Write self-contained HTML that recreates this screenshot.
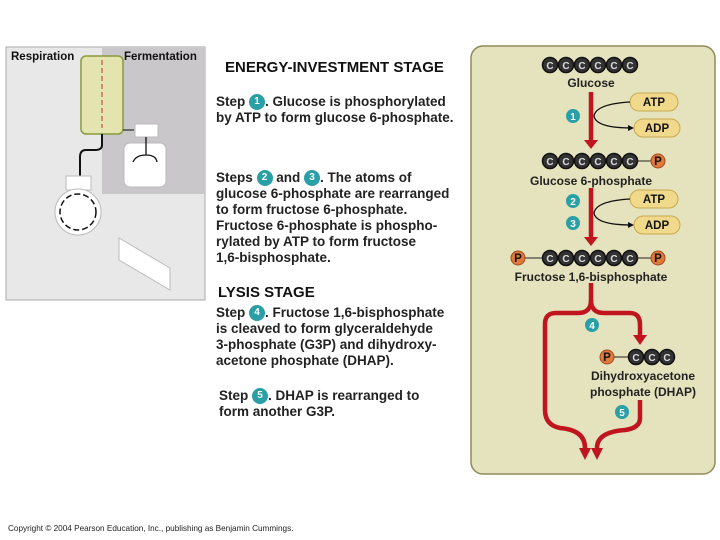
<!DOCTYPE html>
<html><head><style>
body{margin:0;background:#fff;position:relative;width:720px;height:540px;overflow:hidden;}
svg{display:block;font-family:"Liberation Sans",sans-serif;}
.txt{position:absolute;font-family:"Liberation Sans",sans-serif;font-weight:bold;font-size:13.5px;line-height:16px;color:#222;white-space:nowrap;}
.n{display:inline-block;width:16px;height:16px;border-radius:50%;background:#2a9fa6;color:#fff;font-size:10px;line-height:16px;text-align:center;vertical-align:top;}
.h{position:absolute;font-family:"Liberation Sans",sans-serif;font-weight:bold;font-size:15px;color:#111;white-space:nowrap;}
.c{fill:#333;stroke:#111;stroke-width:1.5;}
.ct{font-size:10px;font-weight:bold;fill:#ddd;text-anchor:middle;}
.lb{font-size:12px;font-weight:bold;fill:#222;text-anchor:middle;}
.st{fill:#2a9fa6;}
.sn{font-size:10px;font-weight:bold;fill:#fff;text-anchor:middle;}
.pill{fill:#f0d98a;stroke:#c8a850;stroke-width:1;}
.pt{font-size:11.5px;font-weight:bold;fill:#111;text-anchor:middle;}
.p{fill:#e0793a;stroke:#a04a20;}
.r{stroke:#c0141e;stroke-width:4.5;fill:none;}
</style></head><body>
<svg width="720" height="540" viewBox="0 0 720 540">
<rect x="6" y="47" width="199" height="253" fill="#e8e8e8" stroke="#aaa"/>
<rect x="102" y="47" width="103" height="147" fill="#c9c7c9"/>
<text x="11" y="60" font-size="11.5" font-weight="bold" fill="#111">Respiration</text>
<text x="124" y="60" font-size="11.5" font-weight="bold" fill="#111">Fermentation</text>
<rect x="81" y="56" width="42" height="78" rx="5" fill="#e3e4b0" stroke="#8a9a3a" stroke-width="1.5"/>
<line x1="102" y1="60" x2="102" y2="128" stroke="#c03020" stroke-width="1" stroke-dasharray="5,3"/>
<path d="M102 134 V145 Q102 150 95 150 H86 Q80 150 80 157 V176" stroke="#111" stroke-width="2" fill="none"/>
<line x1="123" y1="130" x2="134" y2="130" stroke="#111"/>
<rect x="135" y="124" width="23" height="13" fill="#fff" stroke="#bbb"/>
<rect x="124" y="143" width="42" height="44" rx="6" fill="#fff" stroke="#bbb"/>
<path d="M146 137 V155 M146 155 Q136 155 133 162 M146 155 Q156 155 157 162" stroke="#111" stroke-width="1.3" fill="none"/>
<rect x="66" y="176" width="25" height="14" fill="#fff" stroke="#bbb"/>
<circle cx="78" cy="212" r="23" fill="#fff" stroke="#bbb"/>
<circle cx="78" cy="212" r="18" fill="none" stroke="#111" stroke-width="1.5" stroke-dasharray="6,3"/>
<polygon points="119,238 170,268 170,290 119,260" fill="#fff" stroke="#bbb"/>
<rect x="471" y="46" width="244" height="428" rx="12" fill="#e5e3be" stroke="#8c8c5a" stroke-width="1.5"/>
<g id="c6">
<g class="c"><circle cx="550" cy="65" r="7.5"/><circle cx="566" cy="65" r="7.5"/><circle cx="582" cy="65" r="7.5"/><circle cx="598" cy="65" r="7.5"/><circle cx="614" cy="65" r="7.5"/><circle cx="630" cy="65" r="7.5"/></g>
<g class="ct"><text x="550" y="69">C</text><text x="566" y="69">C</text><text x="582" y="69">C</text><text x="598" y="69">C</text><text x="614" y="69">C</text><text x="630" y="69">C</text></g>
</g>
<text x="591" y="87" class="lb">Glucose</text>
<use href="#c6" y="96"/>
<line x1="637" y1="161" x2="651" y2="161" stroke="#222"/><circle cx="658" cy="161" r="7" class="p"/><text x="658" y="165" class="pt" font-size="10">P</text>
<text x="591" y="185" class="lb">Glucose 6-phosphate</text>
<use href="#c6" y="193"/>
<line x1="637" y1="258" x2="651" y2="258" stroke="#222"/><circle cx="658" cy="258" r="7" class="p"/><text x="658" y="262" class="pt" font-size="10">P</text>
<line x1="525" y1="258" x2="543" y2="258" stroke="#222"/><circle cx="518" cy="258" r="7" class="p"/><text x="518" y="262" class="pt" font-size="10">P</text>
<text x="591" y="281" class="lb">Fructose 1,6-bisphosphate</text>
<path class="r" d="M591 92 V140"/><polygon points="584,140 598,140 591,149" fill="#c0141e"/>
<path class="r" d="M591 188 V237"/><polygon points="584,237 598,237 591,246" fill="#c0141e"/>
<g class="pill"><rect x="630" y="93" width="48" height="18" rx="9"/><rect x="634" y="119" width="46" height="18" rx="9"/><rect x="630" y="190" width="48" height="18" rx="9"/><rect x="634" y="216" width="46" height="18" rx="9"/></g>
<g class="pt"><text x="654" y="106">ATP</text><text x="657" y="132">ADP</text><text x="654" y="203">ATP</text><text x="657" y="229">ADP</text></g>
<path d="M630 102 Q596 104 594 116 Q596 128 632 128" stroke="#111" stroke-width="1.3" fill="none"/><polygon points="628,125 634,128 628,131" fill="#111"/>
<path d="M630 199 Q596 201 594 213 Q596 225 632 225" stroke="#111" stroke-width="1.3" fill="none"/><polygon points="628,222 634,225 628,228" fill="#111"/>
<g class="st"><circle cx="573" cy="116" r="7"/><circle cx="573" cy="201" r="7"/><circle cx="573" cy="223" r="7"/><circle cx="592" cy="325" r="7"/><circle cx="622" cy="412" r="7"/></g>
<g class="sn"><text x="573" y="120">1</text><text x="573" y="205">2</text><text x="573" y="227">3</text><text x="592" y="329">4</text><text x="622" y="416">5</text></g>
<path class="r" d="M591 283 V300 Q591 313 578 313 H556 Q545 313 545 324 V410 Q545 425 560 428 Q585 430 585 448"/>
<path class="r" d="M591 300 Q591 313 604 313 H630 Q640 313 640 325 V335"/>
<polygon points="633,335 647,335 640,345" fill="#c0141e"/>
<path class="r" d="M640 400 V418 Q640 428 625 430 Q597 432 597 448"/>
<polygon points="579,448 591,448 585,460" fill="#c0141e"/><polygon points="591,448 603,448 597,460" fill="#c0141e"/>
<circle cx="607" cy="357" r="7" class="p"/><text x="607" y="361" class="pt" font-size="10">P</text>
<line x1="614" y1="357" x2="629" y2="357" stroke="#222"/>
<g class="c"><circle cx="636" cy="357" r="7.5"/><circle cx="652" cy="357" r="7.5"/><circle cx="667" cy="357" r="7.5"/></g>
<g class="ct"><text x="636" y="361">C</text><text x="652" y="361">C</text><text x="667" y="361">C</text></g>
<text x="643" y="380" class="lb">Dihydroxyacetone</text>
<text x="643" y="396" class="lb">phosphate (DHAP)</text>
<text x="8" y="531" font-size="8.2" fill="#222">Copyright © 2004 Pearson Education, Inc., publishing as Benjamin Cummings.</text>
</svg>
<div class="h" style="left:225px;top:59px">ENERGY-INVESTMENT STAGE</div>
<div class="txt" style="left:216px;top:94px">Step <span class="n">1</span>. Glucose is phosphorylated<br>by ATP to form glucose 6-phosphate.</div>
<div class="txt" style="left:216px;top:170px">Steps <span class="n">2</span> and <span class="n">3</span>. The atoms of<br>glucose 6-phosphate are rearranged<br>to form fructose 6-phosphate.<br>Fructose 6-phosphate is phospho-<br>rylated by ATP to form fructose<br>1,6-bisphosphate.</div>
<div class="h" style="left:218px;top:284px">LYSIS STAGE</div>
<div class="txt" style="left:216px;top:305px">Step <span class="n">4</span>. Fructose 1,6-bisphosphate<br>is cleaved to form glyceraldehyde<br>3-phosphate (G3P) and dihydroxy-<br>acetone phosphate (DHAP).</div>
<div class="txt" style="left:219px;top:388px">Step <span class="n">5</span>. DHAP is rearranged to<br>form another G3P.</div>
</body></html>
